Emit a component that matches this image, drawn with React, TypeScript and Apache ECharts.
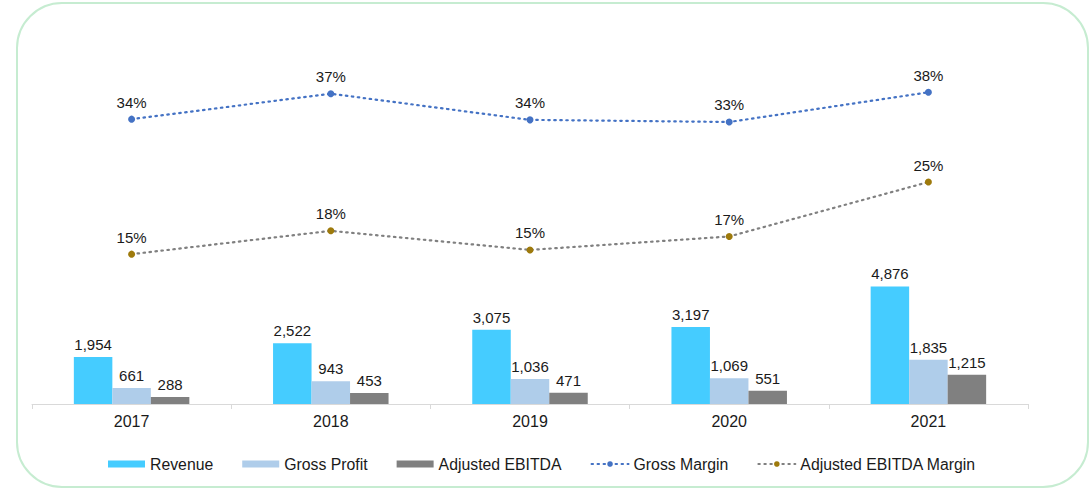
import React, { useEffect, useRef } from "react";
import * as echarts from "echarts";

const years = ["2017", "2018", "2019", "2020", "2021"];
const revenue = [1954, 2522, 3075, 3197, 4876];
const grossProfit = [661, 943, 1036, 1069, 1835];
const adjustedEbitda = [288, 453, 471, 551, 1215];
const grossMargin = [33.8, 37.4, 33.7, 33.4, 37.6];
const ebitdaMargin = [14.7, 18.0, 15.3, 17.2, 24.9];

const FONT = 'Arial, "Liberation Sans", sans-serif';
const TXT = "#1a1a1a";

export default function App() {
  const ref = useRef<HTMLDivElement>(null);
  useEffect(() => {
    if (!ref.current) return;
    const chart = echarts.init(ref.current, null, { renderer: "svg" });
    const fmtNum = (p: any) => Number(p.value).toLocaleString("en-US");
    const fmtPct = (p: any) => Math.round(Number(p.value)) + "%";
    const barLabel = {
      show: true,
      position: "top",
      distance: 5,
      color: TXT,
      fontSize: 15,
      fontFamily: FONT,
      formatter: fmtNum,
    };
    const lineLabel = {
      show: true,
      position: "top",
      distance: 6,
      color: TXT,
      fontSize: 15,
      fontFamily: FONT,
      formatter: fmtPct,
    };
    chart.setOption({
      animation: false,
      textStyle: { fontFamily: FONT },
      graphic: [
        {
          type: "rect",
          shape: { x: 17, y: 3, width: 1071, height: 484, r: 45 },
          style: { fill: "none", stroke: "#c6ecd1", lineWidth: 2 },
          silent: true,
          z: -10,
        },
      ],
      grid: { left: 32, right: 62, top: 40, bottom: 85 },
      legend: {
        left: 103,
        top: 451,
        itemWidth: 37,
        itemHeight: 7,
        itemGap: 29,
        textStyle: { color: TXT, fontSize: 15.8, fontFamily: FONT },
        data: [
          { name: "Revenue", icon: "rect" },
          { name: "Gross Profit", icon: "rect" },
          { name: "Adjusted EBITDA", icon: "rect" },
          { name: "Gross Margin" },
          { name: "Adjusted EBITDA Margin" },
        ],
      },
      xAxis: {
        type: "category",
        data: years,
        axisLine: { lineStyle: { color: "#d9d9d9", width: 1 } },
        axisTick: { show: true, length: 5, lineStyle: { color: "#d9d9d9" } },
        axisLabel: { color: TXT, fontSize: 16, fontFamily: FONT, margin: 9 },
      },
      yAxis: [
        { type: "value", min: 0, max: 15100, show: false, splitLine: { show: false } },
        { type: "value", min: -6.5, max: 45, show: false, splitLine: { show: false } },
      ],
      series: [
        {
          name: "Revenue",
          type: "bar",
          data: revenue,
          barWidth: 38.5,
          barGap: "0%",
          itemStyle: { color: "#45ccff" },
          label: barLabel,
        },
        {
          name: "Gross Profit",
          type: "bar",
          data: grossProfit,
          barWidth: 38.5,
          barGap: "0%",
          itemStyle: { color: "#afcdea" },
          label: barLabel,
        },
        {
          name: "Adjusted EBITDA",
          type: "bar",
          data: adjustedEbitda,
          barWidth: 38.5,
          barGap: "0%",
          itemStyle: { color: "#808080" },
          label: barLabel,
        },
        {
          name: "Gross Margin",
          type: "line",
          yAxisIndex: 1,
          data: grossMargin,
          symbol: "circle",
          symbolSize: 7,
          itemStyle: { color: "#4472c4" },
          lineStyle: { color: "#4472c4", width: 2.2, type: [1.5, 4.5], cap: "round" },
          label: lineLabel,
          z: 5,
        },
        {
          name: "Adjusted EBITDA Margin",
          type: "line",
          yAxisIndex: 1,
          data: ebitdaMargin,
          symbol: "circle",
          symbolSize: 7,
          itemStyle: { color: "#9e7a0c" },
          lineStyle: { color: "#808080", width: 2.2, type: [1.5, 4.5], cap: "round" },
          label: lineLabel,
          z: 5,
        },
      ],
    });
    return () => chart.dispose();
  }, []);
  return (
    <div
      style={{ position: "fixed", left: 0, top: 0, width: 1090, height: 489, background: "#fff" }}
    >
      <div ref={ref} style={{ width: 1090, height: 489 }} />
    </div>
  );
}
